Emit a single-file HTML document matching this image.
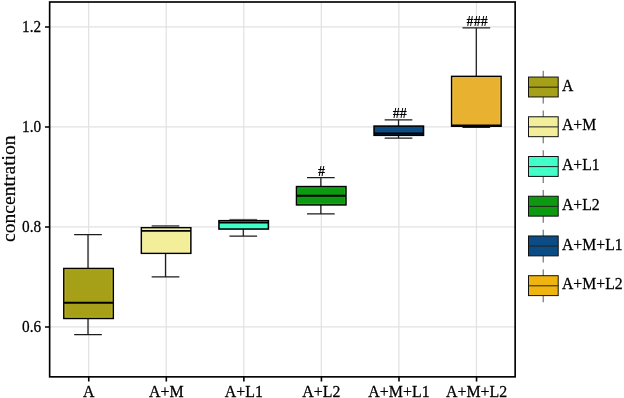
<!DOCTYPE html>
<html><head><meta charset="utf-8"><title>Boxplot</title>
<style>html,body{margin:0;padding:0;background:#fff}body{width:624px;height:398px;overflow:hidden}</style>
</head><body>
<svg width="624" height="398" viewBox="0 0 624 398" style="display:block" font-family="'Liberation Serif', 'Times New Roman', serif">
<rect width="624" height="398" fill="#fff"/>
<path d="M49.65 326.90H515.15M49.65 226.90H515.15M49.65 126.90H515.15M49.65 26.90H515.15M88.65 2.0V376.85M166.21 2.0V376.85M243.77 2.0V376.85M321.33 2.0V376.85M398.89 2.0V376.85M476.45 2.0V376.85" stroke="#e2e2e2" stroke-width="1.25" fill="none"/>
<path d="M88.00 234.55V268.5M88.00 318.45V334.5M74.15 234.55H101.85M74.15 334.5H101.85" stroke="#1c1c1c" stroke-width="1.25" fill="none"/>
<rect x="63.83" y="268.5" width="49.44" height="49.95" fill="#A6A018" stroke="#000" stroke-width="1.55"/>
<rect x="65.03" y="269.70" width="47.04" height="47.55" fill="none" stroke="#D4CE2A" stroke-width="1" opacity="0.55"/>
<path d="M63.83 302.7H113.27" stroke="#000" stroke-width="2.1"/>
<path d="M165.50 225.95V227.75M165.50 253.3V276.9M151.65 276.9H179.35" stroke="#1c1c1c" stroke-width="1.25" fill="none"/>
<path d="M151.65 225.95H179.35" stroke="#6a6a6a" stroke-width="1.9" fill="none"/>
<rect x="141.39" y="227.75" width="49.44" height="25.55" fill="#F2EE9A" stroke="#000" stroke-width="1.55"/>
<rect x="142.59" y="228.95" width="47.04" height="23.15" fill="none" stroke="#FFFDB8" stroke-width="1" opacity="0.55"/>
<path d="M141.39 230.85H190.83" stroke="#000" stroke-width="1.7"/>
<path d="M243.30 219.4V220.7M243.30 229.05V236.0M229.45 236.0H257.15" stroke="#1c1c1c" stroke-width="1.25" fill="none"/>
<path d="M229.45 219.4H257.15" stroke="#555" stroke-width="1.0" fill="none"/>
<rect x="218.95" y="220.7" width="49.44" height="8.35" fill="#40FFC8" stroke="#000" stroke-width="1.55"/>
<path d="M218.95 222.6H268.39" stroke="#000" stroke-width="1.7"/>
<path d="M320.85 177.5V186.6M320.85 204.9V213.85M307.00 177.5H334.70M307.00 213.85H334.70" stroke="#1c1c1c" stroke-width="1.25" fill="none"/>
<rect x="296.51" y="186.6" width="49.44" height="18.30" fill="#0E9A10" stroke="#000" stroke-width="1.55"/>
<rect x="297.71" y="187.80" width="47.04" height="15.90" fill="none" stroke="#24C026" stroke-width="1" opacity="0.55"/>
<path d="M296.51 195.75H345.95" stroke="#000" stroke-width="2.1"/>
<path d="M398.50 119.8V126.1M398.50 135.3V138.2M384.65 119.8H412.35M384.65 138.2H412.35" stroke="#1c1c1c" stroke-width="1.25" fill="none"/>
<rect x="374.07" y="126.1" width="49.44" height="9.20" fill="#0B4C84" stroke="#000" stroke-width="1.55"/>
<path d="M374.07 133.5H423.51" stroke="#000" stroke-width="2.0"/>
<path d="M476.30 27.95V76.4M476.30 126.2V127.3M462.45 27.95H490.15M462.45 127.3H490.15" stroke="#1c1c1c" stroke-width="1.25" fill="none"/>
<rect x="451.63" y="76.4" width="49.44" height="49.80" fill="#E8B230" stroke="#000" stroke-width="1.55"/>
<rect x="452.83" y="77.60" width="47.04" height="47.40" fill="none" stroke="#FFD048" stroke-width="1" opacity="0.55"/>
<path d="M451.63 125.6H501.07" stroke="#000" stroke-width="2.1"/>
<rect x="49.65" y="2.0" width="465.50" height="374.85" fill="none" stroke="#000" stroke-width="1.65"/>
<path d="M45 327.00H49.65M45 227.00H49.65M45 127.00H49.65M45 27.00H49.65M88.75 376.85V381.6M166.31 376.85V381.6M243.87 376.85V381.6M321.43 376.85V381.6M398.99 376.85V381.6M476.55 376.85V381.6" stroke="#000" stroke-width="1.6" fill="none"/>
<text transform="translate(41.2 332.00) scale(0.98 1.1)" font-size="15.6" text-anchor="end" fill="#000" stroke="#000" stroke-width="0.25">0.6</text>
<text transform="translate(41.2 232.00) scale(0.98 1.1)" font-size="15.6" text-anchor="end" fill="#000" stroke="#000" stroke-width="0.25">0.8</text>
<text transform="translate(41.2 132.00) scale(0.98 1.1)" font-size="15.6" text-anchor="end" fill="#000" stroke="#000" stroke-width="0.25">1.0</text>
<text transform="translate(41.2 32.00) scale(0.98 1.1)" font-size="15.6" text-anchor="end" fill="#000" stroke="#000" stroke-width="0.25">1.2</text>
<text transform="translate(88.75 396.5) scale(1.02 1.07)" font-size="15.6" text-anchor="middle" fill="#000" stroke="#000" stroke-width="0.25">A</text>
<text transform="translate(166.31 396.5) scale(1.02 1.07)" font-size="15.6" text-anchor="middle" fill="#000" stroke="#000" stroke-width="0.25">A+M</text>
<text transform="translate(243.87 396.5) scale(1.02 1.07)" font-size="15.6" text-anchor="middle" fill="#000" stroke="#000" stroke-width="0.25">A+L1</text>
<text transform="translate(321.43 396.5) scale(1.02 1.07)" font-size="15.6" text-anchor="middle" fill="#000" stroke="#000" stroke-width="0.25">A+L2</text>
<text transform="translate(398.99 396.5) scale(1.02 1.07)" font-size="15.6" text-anchor="middle" fill="#000" stroke="#000" stroke-width="0.25">A+M+L1</text>
<text transform="translate(476.55 396.5) scale(1.02 1.07)" font-size="15.6" text-anchor="middle" fill="#000" stroke="#000" stroke-width="0.25">A+M+L2</text>
<text transform="translate(15.15 188.7) rotate(-90)" font-size="19.62" text-anchor="middle" fill="#000" stroke="#000" stroke-width="0.2">concentration</text>
<text x="321.43" y="175.50" font-size="14.1" font-weight="bold" text-anchor="middle" fill="#000">#</text>
<text x="399.69" y="117.80" font-size="14.1" font-weight="bold" text-anchor="middle" fill="#000">##</text>
<text x="477.15" y="25.95" font-size="14.1" font-weight="bold" text-anchor="middle" fill="#000">###</text>
<path d="M543.2 70.80V103.60" stroke="#444" stroke-width="0.9"/>
<rect x="528.5" y="77.05" width="29.7" height="19.9" fill="#A6A018" stroke="#111" stroke-width="1"/>
<path d="M528.5 87.15H558.2" stroke="#222" stroke-width="1"/>
<text transform="translate(562.0 90.75) scale(1.01 1.07)" font-size="15.6" fill="#000" stroke="#000" stroke-width="0.25">A</text>
<path d="M543.2 110.53V143.33" stroke="#444" stroke-width="0.9"/>
<rect x="528.5" y="116.78" width="29.7" height="19.9" fill="#F2EE9A" stroke="#111" stroke-width="1"/>
<path d="M528.5 126.88H558.2" stroke="#222" stroke-width="1"/>
<text transform="translate(562.0 130.48) scale(1.01 1.07)" font-size="15.6" fill="#000" stroke="#000" stroke-width="0.25">A+M</text>
<path d="M543.2 150.26V183.06" stroke="#444" stroke-width="0.9"/>
<rect x="528.5" y="156.51" width="29.7" height="19.9" fill="#40FFC8" stroke="#111" stroke-width="1"/>
<path d="M528.5 166.61H558.2" stroke="#222" stroke-width="1"/>
<text transform="translate(562.0 170.21) scale(1.01 1.07)" font-size="15.6" fill="#000" stroke="#000" stroke-width="0.25">A+L1</text>
<path d="M543.2 189.99V222.79" stroke="#444" stroke-width="0.9"/>
<rect x="528.5" y="196.24" width="29.7" height="19.9" fill="#0E9A10" stroke="#111" stroke-width="1"/>
<path d="M528.5 206.34H558.2" stroke="#222" stroke-width="1"/>
<text transform="translate(562.0 209.94) scale(1.01 1.07)" font-size="15.6" fill="#000" stroke="#000" stroke-width="0.25">A+L2</text>
<path d="M543.2 229.72V262.52" stroke="#444" stroke-width="0.9"/>
<rect x="528.5" y="235.97" width="29.7" height="19.9" fill="#0B4C84" stroke="#111" stroke-width="1"/>
<path d="M528.5 246.07H558.2" stroke="#222" stroke-width="1"/>
<text transform="translate(562.0 249.67) scale(1.01 1.07)" font-size="15.6" fill="#000" stroke="#000" stroke-width="0.25">A+M+L1</text>
<path d="M543.2 269.45V302.25" stroke="#444" stroke-width="0.9"/>
<rect x="528.5" y="275.70" width="29.7" height="19.9" fill="#F0B410" stroke="#111" stroke-width="1"/>
<path d="M528.5 285.80H558.2" stroke="#222" stroke-width="1"/>
<text transform="translate(562.0 289.40) scale(1.01 1.07)" font-size="15.6" fill="#000" stroke="#000" stroke-width="0.25">A+M+L2</text>
</svg>
</body></html>
